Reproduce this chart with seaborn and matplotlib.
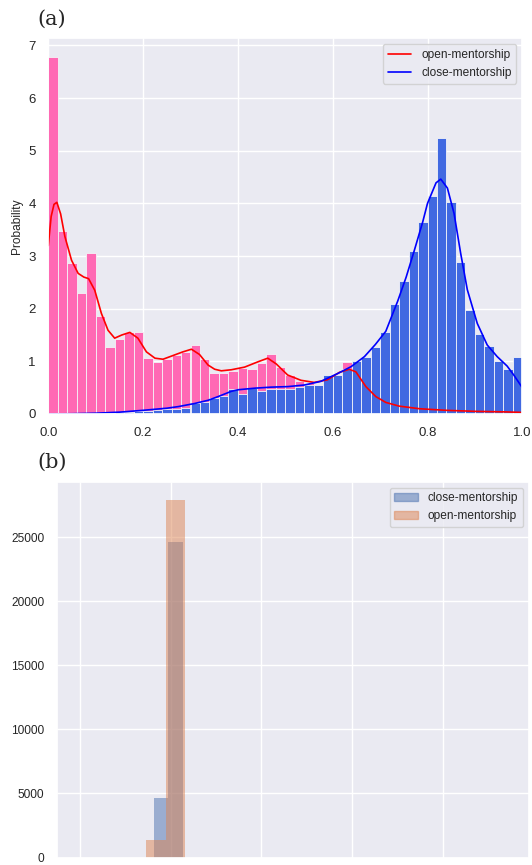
import numpy as np
import pandas as pd
import matplotlib
matplotlib.use("Agg")
import matplotlib.pyplot as plt
from matplotlib.patches import Patch
import seaborn as sns

## Panel (a): density histograms, 50 bins over 0..1
bin_edges = list(np.round(np.linspace(0, 1, 51), 4))
bin_mid = [round(e + 0.01, 4) for e in bin_edges[:-1]]

open_density = [6.78, 3.47, 2.86, 2.30, 3.06, 1.86, 1.27, 1.42, 1.56, 1.56,
                1.07, 0.98, 1.04, 1.12, 1.18, 1.31, 1.04, 0.77, 0.77, 0.82,
                0.87, 0.85, 0.96, 1.13, 0.89, 0.74, 0.62, 0.58, 0.52, 0.55,
                0.70, 0.98, 0.80, 0.42, 0.22, 0.13, 0.09, 0.07, 0.06, 0.05,
                0.05, 0.04, 0.04, 0.03, 0.03, 0.03, 0.02, 0.02, 0.02, 0.02]

close_density = [0.0, 0.0, 0.005, 0.01, 0.01, 0.015, 0.02, 0.03, 0.03, 0.05,
                 0.06, 0.08, 0.10, 0.10, 0.12, 0.20, 0.22, 0.30, 0.35, 0.47,
                 0.38, 0.49, 0.44, 0.47, 0.47, 0.47, 0.51, 0.55, 0.56, 0.74,
                 0.75, 0.85, 1.00, 1.09, 1.28, 1.55, 2.09, 2.52, 3.09, 3.64,
                 4.14, 5.24, 4.02, 2.89, 1.98, 1.51, 1.29, 1.01, 0.86, 1.08]

# kde curves
open_kde_x = [0.000, 0.006, 0.012, 0.018, 0.026, 0.035, 0.049, 0.063, 0.075, 0.085,
              0.098, 0.112, 0.126, 0.140, 0.155, 0.172, 0.189, 0.207, 0.225, 0.242,
              0.263, 0.284, 0.302, 0.319, 0.337, 0.351, 0.365, 0.386, 0.414, 0.442,
              0.463, 0.481, 0.505, 0.533, 0.561, 0.589, 0.614, 0.635, 0.649, 0.670,
              0.691, 0.712, 0.740, 0.783, 0.839, 0.902, 0.965, 1.000]
open_kde_y = [3.20, 3.75, 3.98, 4.02, 3.80, 3.37, 2.92, 2.67, 2.60, 2.57,
              2.35, 1.91, 1.59, 1.44, 1.50, 1.55, 1.44, 1.18, 1.06, 1.04,
              1.11, 1.18, 1.23, 1.13, 0.93, 0.85, 0.82, 0.84, 0.89, 0.99,
              1.06, 0.95, 0.74, 0.64, 0.60, 0.65, 0.79, 0.85, 0.80, 0.52,
              0.33, 0.22, 0.15, 0.10, 0.07, 0.05, 0.04, 0.03]

close_kde_x = [0.00, 0.05, 0.10, 0.15, 0.20, 0.25, 0.274, 0.309, 0.337, 0.358,
               0.386, 0.40, 0.435, 0.47, 0.505, 0.54, 0.575, 0.611, 0.639, 0.667,
               0.690, 0.712, 0.737, 0.755, 0.772, 0.79, 0.80, 0.818, 0.828, 0.842,
               0.856, 0.870, 0.884, 0.905, 0.926, 0.947, 0.968, 0.982, 1.00]
close_kde_y = [0.0, 0.005, 0.015, 0.035, 0.07, 0.11, 0.14, 0.20, 0.26, 0.33,
               0.43, 0.46, 0.49, 0.51, 0.52, 0.55, 0.62, 0.77, 0.90, 1.09,
               1.32, 1.57, 2.14, 2.60, 3.10, 3.65, 4.00, 4.39, 4.46, 4.29,
               3.81, 3.05, 2.36, 1.72, 1.31, 1.09, 0.91, 0.74, 0.50]

## Panel (b): raw counts
close_edges = [0.1618, 0.1943, 0.2263]
close_counts = [4670, 24620]
open_edges = [0.1446, 0.1883, 0.2318]
open_counts = [1370, 27930]

sns.set_theme(style="darkgrid")
plt.rcParams['font.family'] = ['Liberation Sans', 'DejaVu Sans']

fig = plt.figure(figsize=(5.32, 8.65), dpi=100)
ax1 = fig.add_axes([48.3 / 532, 1 - 414 / 865, 474 / 532, 376 / 865])
ax2 = fig.add_axes([57.3 / 532, 1 - 857.5 / 865, 471.7 / 532, 375.8 / 865])

##Top panel
df_open = pd.DataFrame({'score': bin_mid, 'dens': open_density})
df_close = pd.DataFrame({'score': bin_mid, 'dens': close_density})
sns.histplot(data=df_open, x='score', weights='dens', bins=bin_edges, stat='count',
             color='#FF69B4', alpha=1, edgecolor='#F4F4F8', linewidth=0.6, ax=ax1)
sns.histplot(data=df_close, x='score', weights='dens', bins=bin_edges, stat='count',
             color='#4169E1', alpha=1, edgecolor='#F4F4F8', linewidth=0.6, ax=ax1)
sns.lineplot(x=open_kde_x, y=open_kde_y, color='red', lw=1.2,
             label='open-mentorship', ax=ax1)
sns.lineplot(x=close_kde_x, y=close_kde_y, color='blue', lw=1.2,
             label='close-mentorship', ax=ax1)
ax1.set_xlim(0, 1)
ax1.set_ylim(0, 7.14)
ax1.set_xticks([0, 0.2, 0.4, 0.6, 0.8, 1.0])
ax1.set_yticks(range(8))
ax1.set_ylabel('Probability', fontsize=8.6)
ax1.set_xlabel('')
ax1.tick_params(labelsize=9.5, pad=3)
ax1.legend(loc='upper right', fontsize=8.6)

##Bottom panel
df_cb = pd.DataFrame({'score': close_edges[:-1], 'n': close_counts})
df_ob = pd.DataFrame({'score': open_edges[:-1], 'n': open_counts})
sns.histplot(data=df_cb, x='score', weights='n', bins=close_edges,
             color='#4C72B0', alpha=0.5, linewidth=0, ax=ax2)
sns.histplot(data=df_ob, x='score', weights='n', bins=open_edges,
             color='#DD8452', alpha=0.5, linewidth=0, ax=ax2)
ax2.set_xlim(-0.0507, 0.991)
ax2.set_xticks([0, 0.2, 0.4, 0.6, 0.8])
ax2.set_xticklabels([])
ax2.set_yticks([0, 5000, 10000, 15000, 20000, 25000])
ax2.set_xlabel('')
ax2.set_ylabel('')
ax2.tick_params(labelsize=8.6)
handles = [Patch(color='#4C72B0', alpha=0.5, label='close-mentorship'),
           Patch(color='#DD8452', alpha=0.5, label='open-mentorship')]
ax2.legend(handles=handles, loc='upper right', fontsize=8.6)

fig.text(37 / 532, 1 - 19 / 865, '(a)', family='DejaVu Serif', fontsize=15,
         va='center', ha='left')
fig.text(37 / 532, 1 - 462 / 865, '(b)', family='DejaVu Serif', fontsize=15,
         va='center', ha='left')

fig.savefig('out.png', dpi=100)
